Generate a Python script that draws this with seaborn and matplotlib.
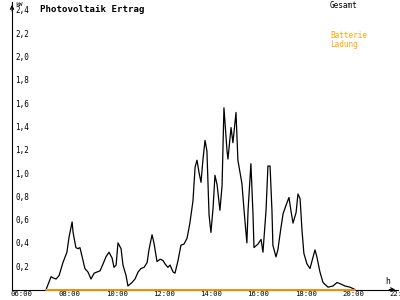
import matplotlib
matplotlib.use("Agg")
import matplotlib.pyplot as plt
from matplotlib.transforms import ScaledTranslation
import seaborn as sns
import pandas as pd

# ---- data ----
hours = [7.40, 7.61, 7.69, 7.82, 7.95, 8.11, 8.28, 8.37, 8.50, 8.54,
         8.66, 8.75, 8.83, 8.96, 9.04, 9.17, 9.30, 9.43, 9.55, 9.68,
         9.81, 9.93, 10.06, 10.19, 10.27, 10.36, 10.44, 10.57, 10.65, 10.78,
         10.86, 11.03, 11.16, 11.29, 11.41, 11.54, 11.67, 11.75, 11.88, 11.96,
         12.09, 12.22, 12.34, 12.43, 12.55, 12.64, 12.77, 12.85, 12.98, 13.10,
         13.23, 13.36, 13.48, 13.61, 13.70, 13.78, 13.87, 13.95, 14.03, 14.12,
         14.20, 14.29, 14.37, 14.46, 14.54, 14.63, 14.75, 14.84, 14.92, 15.05,
         15.09, 15.22, 15.30, 15.43, 15.51, 15.68, 15.77, 15.89, 15.94, 16.06,
         16.15, 16.19, 16.36, 16.49, 16.57, 16.70, 16.78, 16.87, 16.95, 16.99,
         17.12, 17.20, 17.33, 17.42, 17.54, 17.67, 17.75, 17.84, 17.97, 18.05,
         18.14, 18.22, 18.30, 18.43, 18.56, 18.69, 18.77, 18.85, 18.98, 19.11,
         19.32, 19.53, 19.70, 19.83, 20.04, 20.25, 20.46]
gesamt = [0.0, 0.11, 0.10, 0.09, 0.12, 0.23, 0.32, 0.45, 0.58, 0.49,
          0.36, 0.35, 0.36, 0.25, 0.18, 0.15, 0.09, 0.14, 0.15, 0.16,
          0.22, 0.28, 0.32, 0.27, 0.19, 0.21, 0.40, 0.35, 0.21, 0.12,
          0.03, 0.06, 0.09, 0.15, 0.18, 0.19, 0.23, 0.34, 0.47, 0.40,
          0.24, 0.26, 0.25, 0.22, 0.19, 0.21, 0.15, 0.14, 0.25, 0.38,
          0.39, 0.44, 0.57, 0.76, 1.05, 1.11, 1.00, 0.92, 1.11, 1.28,
          1.19, 0.64, 0.49, 0.70, 0.98, 0.90, 0.68, 0.89, 1.56, 1.19,
          1.12, 1.39, 1.26, 1.52, 1.11, 0.91, 0.68, 0.40, 0.68, 1.08,
          0.64, 0.36, 0.39, 0.43, 0.32, 0.68, 1.06, 1.06, 0.68, 0.38,
          0.28, 0.34, 0.53, 0.65, 0.72, 0.79, 0.68, 0.57, 0.66, 0.82,
          0.78, 0.51, 0.31, 0.22, 0.18, 0.28, 0.34, 0.28, 0.15, 0.06,
          0.02, 0.03, 0.06, 0.05, 0.03, 0.02, 0.0]
batterie_hours = [7.40, 20.46]
batterie_ladung = [0.0, 0.0]

x_ticks = [6, 8, 10, 12, 14, 16, 18, 20, 22]
x_labels = ["06:00", "08:00", "10:00", "12:00", "14:00", "16:00", "18:00", "20:00", "22:00"]
y_ticks = [0.2, 0.4, 0.6, 0.8, 1.0, 1.2, 1.4, 1.6, 1.8, 2.0, 2.2, 2.4]
y_labels = ["0,2", "0,4", "0,6", "0,8", "1,0", "1,2", "1,4", "1,6", "1,8", "2,0", "2,2", "2,4"]

sns.set_style("white")
plt.rcParams["font.family"] = ["DejaVu Sans Mono", "DejaVu Sans"]

BLACK = "#000000"
ORANGE = "#ff8c00"
ORANGE_TXT = "#ffa500"

df = pd.DataFrame({"h": hours, "kW": gesamt})
dfb = pd.DataFrame({"h": batterie_hours, "kW": batterie_ladung})

fig = plt.figure(figsize=(4, 3), dpi=100)
ax = fig.add_axes([12 / 400, 10.5 / 300, 386 / 400, 287.5 / 300])

sns.lineplot(data=df, x="h", y="kW", ax=ax, color=BLACK, lw=0.9,
             estimator=None, sort=False, legend=False)
sns.lineplot(data=dfb, x="h", y="kW", ax=ax, color=ORANGE, lw=1.4,
             estimator=None, sort=False, legend=False, clip_on=False, zorder=5)

ax.set_xlim(5.958, 22.28)
ax.set_ylim(0, 2.468)
ax.set_xlabel("")
ax.set_ylabel("")

for s in ["top", "right"]:
    ax.spines[s].set_visible(False)
for s in ["left", "bottom"]:
    ax.spines[s].set_color(BLACK)
    ax.spines[s].set_linewidth(0.8)

ax.set_xticks(x_ticks)
ax.set_xticklabels(x_labels)
ax.set_yticks(y_ticks)
ax.set_yticklabels(y_labels)
ax.tick_params(axis="both", direction="inout", length=4.3, width=0.8,
               color=BLACK, labelcolor=BLACK, labelsize=5.5, pad=0.5)
ax.tick_params(axis="x", labelsize=5.2, pad=0)

xoff = ScaledTranslation(-2 / 100, 1 / 100, fig.dpi_scale_trans)
for lab in ax.get_xticklabels():
    lab.set_ha("left")
    lab.set_transform(lab.get_transform() + xoff)
yoff = ScaledTranslation(7 / 100, 0, fig.dpi_scale_trans)
for lab in ax.get_yticklabels():
    lab.set_ha("left")
    lab.set_transform(lab.get_transform() + yoff)

# axis arrows
ax.annotate("", xy=(0, 1.0), xycoords="axes fraction", xytext=(0, 0.96),
            arrowprops=dict(arrowstyle="->", lw=0.8, color=BLACK,
                            mutation_scale=6), annotation_clip=False)
ax.annotate("", xy=(1.0, 0), xycoords="axes fraction", xytext=(0.97, 0),
            arrowprops=dict(arrowstyle="->", lw=0.8, color=BLACK,
                            mutation_scale=6), annotation_clip=False)

# texts
fig.text(40 / 400, 1 - 10 / 300, "Photovoltaik Ertrag", fontsize=6.6,
         fontweight="bold", va="center", ha="left", color=BLACK)
fig.text(15 / 400, 1 - 4.5 / 300, "kW", fontsize=4.5, va="center", ha="left", color=BLACK)
fig.text(385 / 400, 1 - 282 / 300, "h", fontsize=5.8, va="center", ha="left", color=BLACK)
fig.text(330 / 400, 1 - 5 / 300, "Gesamt", fontsize=5.6, va="center", ha="left", color=BLACK)
fig.text(330 / 400, 1 - 35.5 / 300, "Batterie", fontsize=5.6, va="center", ha="left", color=ORANGE_TXT)
fig.text(330 / 400, 1 - 44.5 / 300, "Ladung", fontsize=5.6, va="center", ha="left", color=ORANGE_TXT)

fig.savefig("out.png", dpi=100)
